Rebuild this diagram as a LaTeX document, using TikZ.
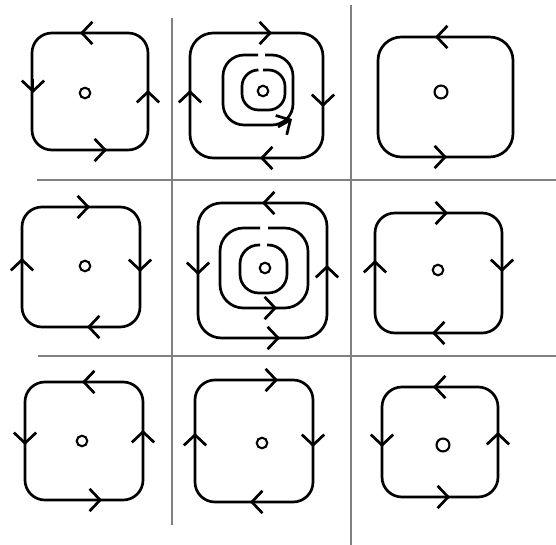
\documentclass[tikz,border=0pt]{standalone}
\usepackage{tikz}
\usetikzlibrary{arrows.meta}

% arrow heads sitting on a loop, tip at (#1,#2)
\newcommand\tipR[2]{\draw[tip] (#1-14,#2) -- (#1,#2);}
\newcommand\tipL[2]{\draw[tip] (#1+14,#2) -- (#1,#2);}
\newcommand\tipU[2]{\draw[tip] (#1,#2+14) -- (#1,#2);}
\newcommand\tipD[2]{\draw[tip] (#1,#2-14) -- (#1,#2);}

\begin{document}
\begin{tikzpicture}[x=0.03cm, y=-0.03cm,
        grid/.style={draw=black!50, line width=1pt},
        swirl/.style={draw, line width=2.3pt, rounded corners=#1},
        swirl/.default=17pt,
        tip/.style={line width=2.3pt, -{Straight Barb[length=9pt, width=19pt]}},
        hole/.style={draw, circle, line width=1.8pt, inner sep=0pt, minimum size=#1},
        hole/.default=9pt]
  \useasboundingbox (0,0) rectangle (556,545);

  % cell separators
  \draw[grid] (172,18) -- (172,525);
  \draw[grid] (351,5) -- (351,545);
  \draw[grid] (37,180) -- (556,180);
  \draw[grid] (38,356) -- (556,356);

  % centres
  \node[hole] (c11) at (85,93) {};
  \node[hole] (c12) at (263,91) {};
  \node[hole=11pt] (c13) at (441,92) {};
  \node[hole] (c21) at (85,266) {};
  \node[hole] (c22) at (265,268) {};
  \node[hole] (c23) at (438,270) {};
  \node[hole] (c31) at (82,441) {};
  \node[hole] (c32) at (262,443) {};
  \node[hole=11pt] (c33) at (443,445) {};

  % top row
  \draw[swirl] (32,33) rectangle (148,150);
  \tipL{80}{33} \tipD{33}{93} \tipR{107}{150} \tipU{148}{90}

  \draw[swirl=20pt] (190,33) rectangle (323,158);
  \tipR{272}{33} \tipD{323}{107} \tipL{260}{158} \tipU{190}{90}
  \draw[swirl=18pt] (265,55) -- (293,55) -- (293,125) -- (223,125) -- (223,55) -- (258,55);
  \draw[tip] (278,127) -- (292,119);
  \draw[swirl=14pt] (263,70) -- (285,70) -- (285,110) -- (242,110) -- (242,70) -- (257,70);

  \draw[swirl=20pt] (378,37) rectangle (513,157);
  \tipL{435}{37} \tipR{447}{157}

  % middle row
  \draw[swirl] (22,207) rectangle (140,327);
  \tipR{90}{207} \tipD{140}{272} \tipL{87}{327} \tipU{22}{258}

  \draw[swirl=20pt] (198,203) rectangle (327,338);
  \tipL{262}{203} \tipD{198}{275} \tipR{280}{338} \tipU{327}{265}
  \draw[swirl=20pt] (268,228) -- (308,228) -- (308,308) -- (220,308) -- (220,228) -- (260,228);
  \tipR{277}{308}
  \draw[swirl=16pt] (267,245) -- (287,245) -- (287,293) -- (240,293) -- (240,245) -- (260,245);

  \draw[swirl] (375,213) rectangle (502,333);
  \tipR{448}{213} \tipD{502}{272} \tipL{432}{333} \tipU{375}{260}

  % bottom row
  \draw[swirl] (25,382) rectangle (143,500);
  \tipL{82}{382} \tipD{25}{445} \tipR{102}{500} \tipU{143}{430}

  \draw[swirl] (195,380) rectangle (313,502);
  \tipR{278}{380} \tipD{313}{447} \tipL{250}{502} \tipU{195}{433}

  \draw[swirl] (382,387) rectangle (498,497);
  \tipL{433}{387} \tipD{382}{447} \tipR{450}{497} \tipU{498}{432}
\end{tikzpicture}
\end{document}
